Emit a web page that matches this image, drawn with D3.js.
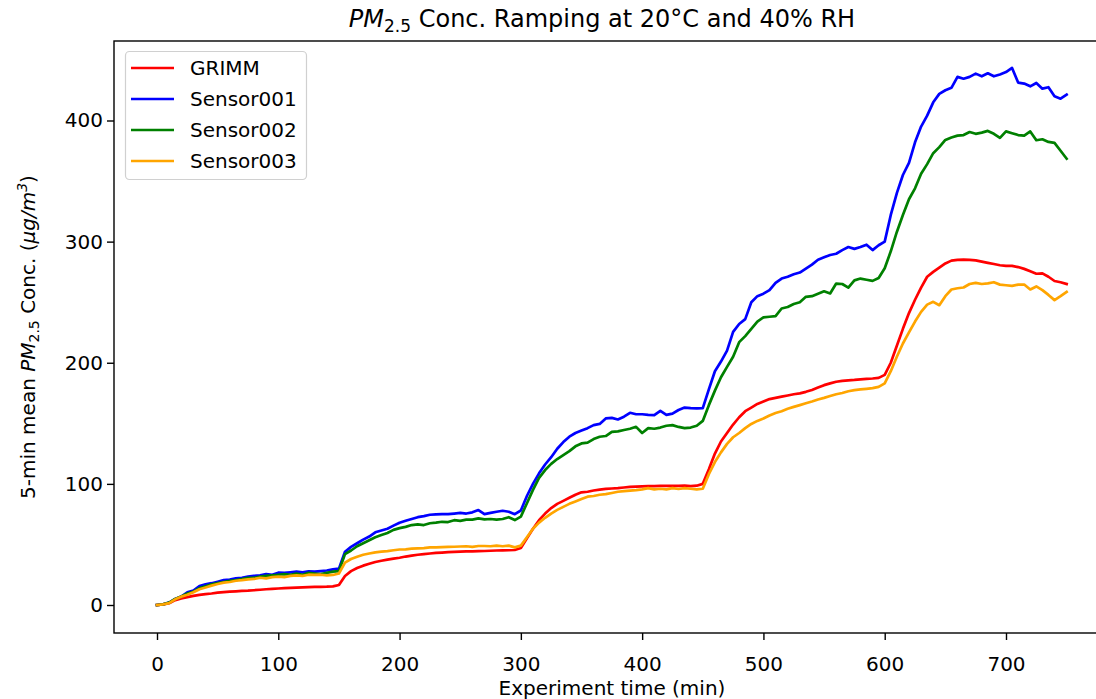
<!DOCTYPE html>
<html>
<head>
  <meta charset="utf-8">
  <title>PM2.5 Conc. Ramping</title>
  <script src="https://d3js.org/d3.v7.min.js"></script>
  <style>
    body { margin: 0; background: #fff; }
    text { font-family: "DejaVu Sans", sans-serif; fill: #000; }
  </style>
</head>
<body>
  <div id="chart"></div>
  <script>
  // 5-min means, one value every 5 minutes from 0 to 750 min
  var timeStart = 0, timeStep = 5;

  var grimm = [
    0, 0.5, 1.5, 4, 5.5, 6.5, 7.5, 8.3, 9, 9.5, 10.2, 10.6, 11, 11.3, 11.6, 11.8,
    12.2, 12.6, 13, 13.3, 13.6, 13.9, 14.2, 14.4, 14.6, 14.7, 14.9, 15, 15.1, 15.4, 16.5,
    24, 28, 30.5, 32.5, 34, 35.5, 36.5, 37.5, 38.3, 39, 40, 40.8, 41.5, 42, 42.5,
    43, 43.3, 43.6, 43.8, 44, 44.2, 44.3, 44.5, 44.6, 44.8, 45, 45.1, 45.2, 45.4, 47,
    55, 63, 70, 75.5, 80, 83.5, 86, 88.5, 91, 93, 93.5, 94.5, 95.3, 95.8, 96.2,
    96.5, 97, 97.5, 97.8, 98, 98.2, 98.2, 98.3, 98.4, 98.3, 98.4, 98.5, 98.2, 98.5, 100,
    112, 125, 135, 142, 149, 155, 160, 163, 166, 168, 170, 171, 172, 173, 174,
    174.7, 176, 177.5, 179.5, 181.5, 183, 184.3, 185, 185.5, 185.8, 186.3, 186.7, 187, 187.5, 190,
    200, 214, 228, 241, 252, 262, 271, 275, 278.5, 282, 284.3, 285, 285.2, 285, 284.5,
    283.5, 282.5, 281.5, 280.5, 280, 280, 279, 277.5, 275.5, 273.5, 273.8, 271, 267.5, 266.5, 265
  ];

  var sensor001 = [
    0, 0.5, 2, 5, 7, 10.5, 12, 15.7, 17, 18, 19.2, 20.5, 21, 22, 22.5, 23.4,
    24, 24.5, 25.5, 25, 26.7, 26.5, 27, 27.5, 27, 27.8, 27.5, 28, 28.5, 29.4, 30,
    44, 48, 51, 54, 56.5, 60, 61.5, 63, 65.5, 67.9, 69.5, 71, 72.5, 73.4, 74.5,
    74.8, 75, 75, 75.5, 76, 75.5, 76.5, 78.4, 75, 76, 77, 77.8, 77, 75, 78,
    90, 100, 108.7, 116, 122, 129, 134.5, 139, 142, 144, 146, 148.5, 149.5, 154, 154.5,
    153.2, 155.5, 158.7, 157.5, 157.5, 157, 156.8, 160.3, 157, 158, 161, 163, 162.5, 162.3, 162.5,
    178, 193, 201, 210, 225.5, 232, 236, 250, 255, 257, 260, 266, 269.5, 271, 273,
    274.5, 277.8, 281, 285, 287, 289, 290, 293, 295.5, 294, 295.5, 297.5, 293, 297, 300,
    322, 340, 355, 365, 382, 395, 404, 415, 422, 425, 427, 436, 434.5, 436, 438.7,
    436.5, 439, 436.5, 438, 440, 443.4, 431.3, 430.5, 428.2, 431, 426.3, 427.5, 420, 418, 421.3
  ];

  var sensor002 = [
    0, 0.5, 2, 5, 7, 9.5, 11, 14, 15.5, 17, 18, 19, 20, 20.5, 21.5, 22.5,
    22.5, 23.5, 24, 24.5, 25, 25.5, 25, 26, 25, 26.5, 26, 25.5, 26.5, 27.5, 28,
    42, 45, 48.5, 51, 53.5, 56, 57.8, 59.5, 62, 63.5, 64.5, 66, 66.5, 66, 67.5,
    68, 68.7, 68.5, 70, 69.5, 70.5, 70.5, 71.5, 70.7, 71, 70.5, 71, 72.5, 70.1, 73,
    84, 95, 105, 111.4, 116.5, 120.5, 123.8, 127, 131, 133.4, 134, 137, 138.9, 139.5, 143,
    143.3, 144.5, 145.5, 147.1, 142, 146, 145.5, 146.5, 148, 148.5, 147, 146, 146.5, 148, 152,
    165, 177, 188, 196.6, 205, 217, 222, 228, 234, 237.5, 238, 238.5, 244.8, 246, 248.5,
    250, 254.4, 255, 257, 259, 257.2, 265.4, 265, 262, 268, 269.5, 268.5, 267.6, 270, 278,
    292, 308, 322, 335, 344, 356, 364, 373, 378, 384, 386, 387.5, 388, 390.5, 389,
    390, 391.4, 389, 385.6, 391, 389.5, 388, 387.5, 391, 383.7, 384.5, 382.3, 381.5, 375, 368.5
  ];

  var sensor003 = [
    0, 0.5, 1.5, 4.7, 6.9, 8.5, 10.5, 13, 14.5, 16, 17.3, 18.5, 19, 20, 20.5, 21.2,
    21.5, 22.5, 22, 23, 23.4, 23, 24, 24.5, 24, 25, 24.8, 25, 24.5, 24.8, 26,
    35, 38, 39.9, 41.5, 42.5, 43.5, 44, 44.5, 45.2, 45.8, 46, 46.5, 46.8, 47, 47.5,
    47.5, 47.8, 48, 48.1, 48.3, 48.5, 48, 48.7, 48.7, 48.5, 49, 48.5, 49, 47.6, 49,
    56, 63, 68, 72, 75.5, 78.5, 81, 83.5, 85.5, 87.5, 89.4, 90, 91, 91.5, 92.5,
    93.5, 94, 94.5, 94.9, 95.5, 96.5, 95.5, 96, 95.5, 96.5, 95.8, 96.5, 96, 95.4, 96,
    108, 118, 126, 133, 138.5, 142, 146, 149.5, 152, 154, 156.5, 158.5, 160, 162, 163.6,
    165, 166.5, 168, 169.7, 171, 172.5, 174, 175, 176.5, 177.4, 178, 178.5, 179, 180.1, 183,
    193, 205, 215.9, 225, 234, 242, 248, 250.3, 247.5, 255, 260.5, 261.5, 262.1, 265, 266,
    265, 265.5, 266.5, 264.5, 264, 263.5, 264.5, 264.6, 260.5, 263, 260, 256, 251.7, 255, 258.5
  ];

  var seriesNames = ["GRIMM", "Sensor001", "Sensor002", "Sensor003"];
  var seriesColors = ["red", "blue", "green", "orange"];
  var seriesValues = [grimm, sensor001, sensor002, sensor003];

  var xTicks = [0, 100, 200, 300, 400, 500, 600, 700];
  var yTicks = [0, 100, 200, 300, 400];

  var W = 1096, H = 699;
  var plot = {left: 114, right: 1112, top: 41, bottom: 633};

  var svg = d3.select("#chart")
    .append("svg")
      .attr("width", W)
      .attr("height", H);

  var x = d3.scaleLinear()
    .domain([0, 700])
    .range([157, 1006]);

  var y = d3.scaleLinear()
    .domain([0, 400])
    .range([605, 120.5]);

  // clip lines to the axes box
  svg.append("clipPath").attr("id", "clip")
    .append("rect")
      .attr("x", plot.left).attr("y", plot.top)
      .attr("width", plot.right - plot.left).attr("height", plot.bottom - plot.top);

  // lines
  var line = d3.line()
    .x(function(d, i) { return x(timeStart + i * timeStep); })
    .y(function(d) { return y(d); });

  svg.append("g")
    .attr("clip-path", "url(#clip)")
    .selectAll("path")
    .data(seriesValues)
    .enter()
    .append("path")
      .attr("d", line)
      .attr("fill", "none")
      .attr("stroke", function(d, i) { return seriesColors[i]; })
      .attr("stroke-width", 2.7)
      .attr("stroke-linejoin", "round")
      .attr("stroke-linecap", "square");

  // axes
  var xAxis = svg.append("g")
    .attr("transform", "translate(0," + plot.bottom + ")")
    .call(d3.axisBottom(x).tickValues(xTicks).tickSize(7).tickPadding(17));
  var yAxis = svg.append("g")
    .attr("transform", "translate(" + plot.left + ",0)")
    .call(d3.axisLeft(y).tickValues(yTicks).tickSize(7).tickPadding(4));

  [xAxis, yAxis].forEach(function(a) {
    a.select(".domain").remove();
    a.selectAll("line").attr("stroke", "#000").attr("stroke-width", 1.4);
    a.selectAll("text")
      .style("font-family", "'DejaVu Sans', sans-serif")
      .style("font-size", "20px")
      .attr("fill", "#000");
  });

  // frame
  svg.append("rect")
    .attr("x", plot.left)
    .attr("y", plot.top)
    .attr("width", plot.right - plot.left)
    .attr("height", plot.bottom - plot.top)
    .attr("fill", "none")
    .attr("stroke", "#000")
    .attr("stroke-width", 1.4);

  // title
  var title = svg.append("text")
    .attr("x", 602)
    .attr("y", 27)
    .attr("text-anchor", "middle")
    .style("font-size", "24px");
  title.append("tspan").style("font-style", "italic").text("PM");
  title.append("tspan").attr("dy", 5).style("font-size", "17px").text("2.5");
  title.append("tspan").attr("dy", -5).text(" Conc. Ramping at 20°C and 40% RH");

  // x label
  svg.append("text")
    .attr("x", 612)
    .attr("y", 695)
    .attr("text-anchor", "middle")
    .style("font-size", "20px")
    .text("Experiment time (min)");

  // y label
  var ylab = svg.append("text")
    .attr("transform", "translate(35," + ((plot.top + plot.bottom) / 2) + ") rotate(-90)")
    .attr("text-anchor", "middle")
    .style("font-size", "20px");
  ylab.append("tspan").text("5-min mean ");
  ylab.append("tspan").style("font-style", "italic").text("PM");
  ylab.append("tspan").attr("dy", 4).style("font-size", "14px").text("2.5");
  ylab.append("tspan").attr("dy", -4).text(" Conc. (");
  ylab.append("tspan").style("font-style", "italic").text("μg/m");
  ylab.append("tspan").attr("dy", -8).style("font-size", "14px").style("font-style", "italic").text("3");
  ylab.append("tspan").attr("dy", 8).text(")");

  // legend
  var legend = svg.append("g");
  legend.append("rect")
    .attr("x", 125.5).attr("y", 51.5)
    .attr("width", 181).attr("height", 128)
    .attr("rx", 4)
    .attr("fill", "#fff").attr("fill-opacity", 0.8)
    .attr("stroke", "#d0d0d0").attr("stroke-width", 1.2);

  var items = legend.selectAll(".item")
    .data(seriesNames)
    .enter()
    .append("g")
      .attr("transform", function(d, i) { return "translate(0," + (68 + i * 31) + ")"; });
  items.append("line")
    .attr("x1", 131).attr("x2", 174)
    .attr("stroke", function(d, i) { return seriesColors[i]; })
    .attr("stroke-width", 2.7);
  items.append("text")
    .attr("x", 190)
    .attr("dy", "0.35em")
    .style("font-size", "20px")
    .text(function(d) { return d; });
  </script>
</body>
</html>
